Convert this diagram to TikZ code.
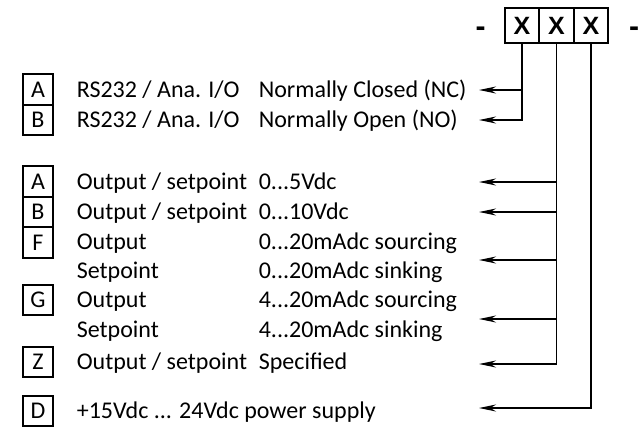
\documentclass[tikz,border=0pt]{standalone}
\usepackage{fontspec}
\setmainfont{Carlito}
\newfontfamily\codefont{Liberation Sans}
\usetikzlibrary{arrows.meta}
\begin{document}
\begin{tikzpicture}
  [x=1pt,y=-1pt,line width=1.6pt,
   every node/.style={font=\fontsize{24}{28}\selectfont,inner sep=0pt},
   feed/.style={-{Stealth[length=17pt,width=7pt]}}]
  \tikzstyle{code} = [draw,minimum width=34.5pt,minimum height=35pt,font=\fontsize{25}{29}\codefont\bfseries]
  \tikzstyle{sep} = [font=\fontsize{30}{34}\codefont\bfseries]
  \tikzstyle{key} = [draw,minimum width=30pt,minimum height=30.5pt]
  \tikzstyle{txt} = [anchor=west,text height=15.5pt,text depth=0pt]
  \useasboundingbox (0,0) rectangle (644,431);

  % order code
  \node[code] (x1) at (522,25.5) {X};
  \node[code] (x2) at (556.5,25.5) {X};
  \node[code] (x3) at (591,25.5) {X};
  \node[sep] (dl) at (480.5,31.5) {-};
  \node[sep] (dr) at (634,31.5) {-};

  % letter keys
  \node[key] (rA) at (38,89.5) {A};
  \node[key] (rB) at (38,120) {B};
  \node[key] (oA) at (38,181.5) {A};
  \node[key] (oB) at (38,212) {B};
  \node[key] (oF) at (38,242.5) {F};
  \node[key] (oG) at (38,300) {G};
  \node[key] (oZ) at (38,362) {Z};
  \node[key] (oD) at (38,411) {D};

  % descriptions
  \node[txt] (t1) at (76,90) {RS232 / Ana. I/O};
  \node[txt] (t2) at (76,120) {RS232 / Ana. I/O};
  \node[txt] (t3) at (76,182) {Output / setpoint};
  \node[txt] (t4) at (76,212) {Output / setpoint};
  \node[txt] (t5) at (76,242) {Output};
  \node[txt] (t6) at (76,271) {Setpoint};
  \node[txt] (t7) at (76,300) {Output};
  \node[txt] (t8) at (76,330) {Setpoint};
  \node[txt] (t9) at (76,362) {Output / setpoint};
  \node[txt] (t10) at (76,411) {+15Vdc ... 24Vdc power supply};

  \node[txt] (s1) at (258,90) {Normally Closed (NC)};
  \node[txt] (s2) at (258,120) {Normally Open (NO)};
  \node[txt] (s3) at (258,182) {0...5Vdc};
  \node[txt] (s4) at (258,212) {0...10Vdc};
  \node[txt] (s5) at (258,242) {0...20mAdc sourcing};
  \node[txt] (s6) at (258,271) {0...20mAdc sinking};
  \node[txt] (s7) at (258,300) {4...20mAdc sourcing};
  \node[txt] (s8) at (258,330) {4...20mAdc sinking};
  \node[txt] (s9) at (258,362) {Specified};

  % arrow ends
  \coordinate (nc) at (479,90);
  \coordinate (no) at (479,120);
  \coordinate (v5) at (479,182);
  \coordinate (v10) at (479,212);
  \coordinate (ma0) at (479,260);
  \coordinate (ma4) at (479,319);
  \coordinate (spec) at (479,364);
  \coordinate (pwr) at (479,408);

  \foreach \src/\dst in {x1/nc,x1/no,x2/v5,x2/v10,x2/ma0,x2/ma4,x2/spec,x3/pwr}
    \draw[feed] (\src.south) |- (\dst);

\end{tikzpicture}
\end{document}
